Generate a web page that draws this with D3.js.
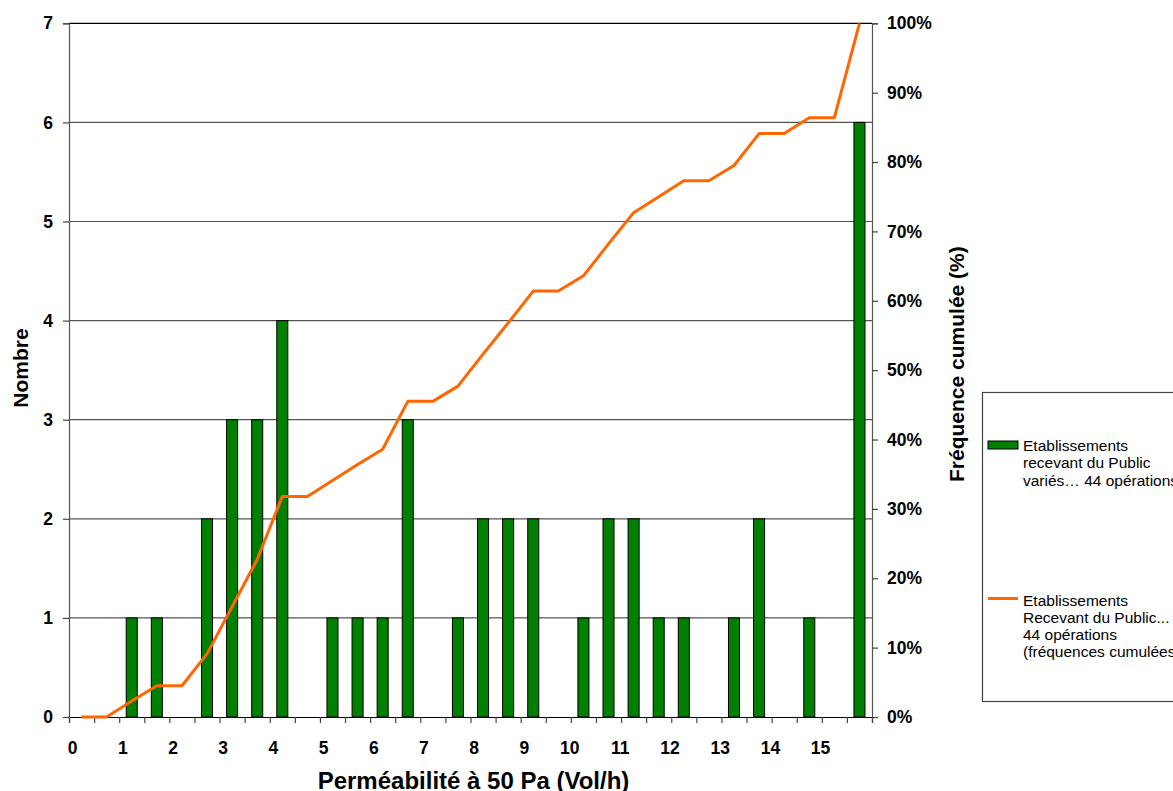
<!DOCTYPE html>
<html>
<head>
<meta charset="utf-8">
<script src="https://cdn.jsdelivr.net/npm/d3@7"></script>
<style>
body { margin: 0; background: #fff; }
svg { display: block; font-family: Arial, "Liberation Sans", sans-serif; }
</style>
</head>
<body>
<svg width="1173" height="791"></svg>
<script>
// bins of 0.5 vol/h, from 0 to 16
var binStart = [0, 0.5, 1, 1.5, 2, 2.5, 3, 3.5, 4, 4.5, 5, 5.5, 6, 6.5, 7, 7.5,
                8, 8.5, 9, 9.5, 10, 10.5, 11, 11.5, 12, 12.5, 13, 13.5, 14, 14.5, 15, 15.5],
    counts = [0, 0, 1, 1, 0, 2, 3, 3, 4, 0, 1, 1, 1, 3, 0, 1,
              2, 2, 2, 0, 1, 2, 2, 1, 1, 0, 1, 2, 0, 1, 0, 6],
    cumul = [0, 0, 2.3, 4.5, 4.5, 9.1, 15.9, 22.7, 31.8, 31.8, 34.1, 36.4, 38.6, 45.5, 45.5, 47.7,
             52.3, 56.8, 61.4, 61.4, 63.6, 68.2, 72.7, 75.0, 77.3, 77.3, 79.5, 84.1, 84.1, 86.4, 86.4, 100],
    xTicks = [0, 1, 2, 3, 4, 5, 6, 7, 8, 9, 10, 11, 12, 13, 14, 15],
    yTicks = [0, 1, 2, 3, 4, 5, 6, 7],
    pctTicks = [0, 10, 20, 30, 40, 50, 60, 70, 80, 90, 100],
    legendBar = ['Etablissements', 'recevant du Public', 'variés\u2026 44 opérations'],
    legendLine = ['Etablissements', 'Recevant du Public...', '44 opérations', '(fréquences cumulées)'];

var svg = d3.select('svg'),
    plotLeft = 69,
    plotRight = 872,
    plotTop = 23.3,
    plotBottom = 717,
    binW = 0.5;

var x = d3.scaleLinear().domain([0, 16]).range([plotLeft, plotRight]),
    y = d3.scaleLinear().domain([0, 7]).range([plotBottom, plotTop]),
    y2 = d3.scaleLinear().domain([0, 100]).range([plotBottom, plotTop]);

// gridlines
svg.append('g')
    .selectAll('line')
    .data(yTicks.slice(1))
    .enter().append('line')
    .attr('x1', plotLeft).attr('x2', plotRight)
    .attr('y1', function (d) { return y(d); })
    .attr('y2', function (d) { return y(d); })
    .attr('stroke', function (d) { return d === 7 ? '#000' : '#555'; })
    .attr('stroke-width', 1.2);

// bars
var barW = x(0.22) - x(0);
svg.append('g')
    .selectAll('rect')
    .data(counts.map(function (c, i) { return {c: c, x0: binStart[i]}; }).filter(function (d) { return d.c > 0; }))
    .enter().append('rect')
    .attr('x', function (d) { return x(d.x0 + binW / 2) - barW / 2; })
    .attr('y', function (d) { return y(d.c); })
    .attr('width', barW)
    .attr('height', function (d) { return y(0) - y(d.c); })
    .attr('fill', '#008000')
    .attr('stroke', '#000')
    .attr('stroke-width', 1);

// left axis
var gl = svg.append('g').attr('transform', 'translate(' + plotLeft + ',0)')
    .call(d3.axisLeft(y).tickValues(yTicks).tickSize(6).tickPadding(10).tickFormat(d3.format('d')));
gl.select('.domain').attr('stroke', '#555').attr('stroke-width', 1.2);

// right axis
var gr = svg.append('g').attr('transform', 'translate(' + plotRight + ',0)')
    .call(d3.axisRight(y2).tickValues(pctTicks).tickSize(6).tickPadding(9).tickFormat(function (d) { return d + '%'; }));
gr.select('.domain').attr('stroke', '#555').attr('stroke-width', 1.2);

// bottom axis: ticks at every bin edge
var gb = svg.append('g').attr('transform', 'translate(0,' + plotBottom + ')')
    .call(d3.axisBottom(x).tickValues(d3.range(0, 16.01, 0.5)).tickSize(6).tickFormat(''));
gb.select('.domain').attr('stroke', '#000').attr('stroke-width', 1.2);

svg.append('g')
    .selectAll('text')
    .data(xTicks)
    .enter().append('text')
    .attr('x', function (d) { return x(d) + 8.5; })
    .attr('y', plotBottom + 37)
    .attr('text-anchor', 'end')
    .attr('font-size', '17.5px')
    .attr('font-weight', 'bold')
    .text(function (d) { return d; });

svg.selectAll('.tick line').attr('stroke', '#444').attr('stroke-width', 1.2);
svg.selectAll('.tick text')
    .attr('font-size', '17.5px')
    .attr('font-weight', 'bold')
    .attr('fill', '#000')
    .attr('font-family', 'Arial, "Liberation Sans", sans-serif');

// cumulative line
var line = d3.line()
    .x(function (d, i) { return x(binStart[i] + binW / 2); })
    .y(function (d) { return y2(d); });

svg.append('path')
    .datum(cumul)
    .attr('d', line)
    .attr('fill', 'none')
    .attr('stroke', '#ff6600')
    .attr('stroke-width', 3)
    .attr('stroke-linejoin', 'round');

// titles
svg.append('text')
    .attr('x', (plotLeft + plotRight) / 2 + 3)
    .attr('y', 789)
    .attr('text-anchor', 'middle')
    .attr('font-size', '24px')
    .attr('font-weight', 'bold')
    .text('Perméabilité à 50 Pa (Vol/h)');

svg.append('text')
    .attr('transform', 'translate(28,368) rotate(-90)')
    .attr('text-anchor', 'middle')
    .attr('font-size', '21px')
    .attr('font-weight', 'bold')
    .text('Nombre');

// right title is cut at its top end in the original
svg.append('clipPath').attr('id', 'rtClip')
    .append('rect').attr('x', 930).attr('y', 247).attr('width', 60).attr('height', 260);

svg.append('g')
    .attr('clip-path', 'url(#rtClip)')
    .append('text')
    .attr('transform', 'translate(964,482) rotate(-90)')
    .attr('text-anchor', 'start')
    .attr('font-size', '21px')
    .attr('font-weight', 'bold')
    .text('Fréquence cumulée (%)');

// legend
var lg = svg.append('g');
lg.append('rect')
    .attr('x', 982.5).attr('y', 392.5)
    .attr('width', 260).attr('height', 309)
    .attr('fill', '#fff')
    .attr('stroke', '#444')
    .attr('stroke-width', 1.2);

lg.append('rect')
    .attr('x', 988).attr('y', 441)
    .attr('width', 30).attr('height', 8)
    .attr('fill', '#008000')
    .attr('stroke', '#000')
    .attr('stroke-width', 1);

lg.append('line')
    .attr('x1', 988).attr('x2', 1018)
    .attr('y1', 598.5).attr('y2', 598.5)
    .attr('stroke', '#ff6600')
    .attr('stroke-width', 3);

lg.selectAll('text.lb')
    .data(legendBar)
    .enter().append('text')
    .attr('class', 'lb')
    .attr('x', 1023)
    .attr('y', function (d, i) { return 450.5 + i * 17.5; })
    .attr('font-size', '15.5px')
    .text(function (d) { return d; });

lg.selectAll('text.ll')
    .data(legendLine)
    .enter().append('text')
    .attr('class', 'll')
    .attr('x', 1023)
    .attr('y', function (d, i) { return 605.5 + i * 17.2; })
    .attr('font-size', '15.5px')
    .text(function (d) { return d; });
</script>
</body>
</html>
